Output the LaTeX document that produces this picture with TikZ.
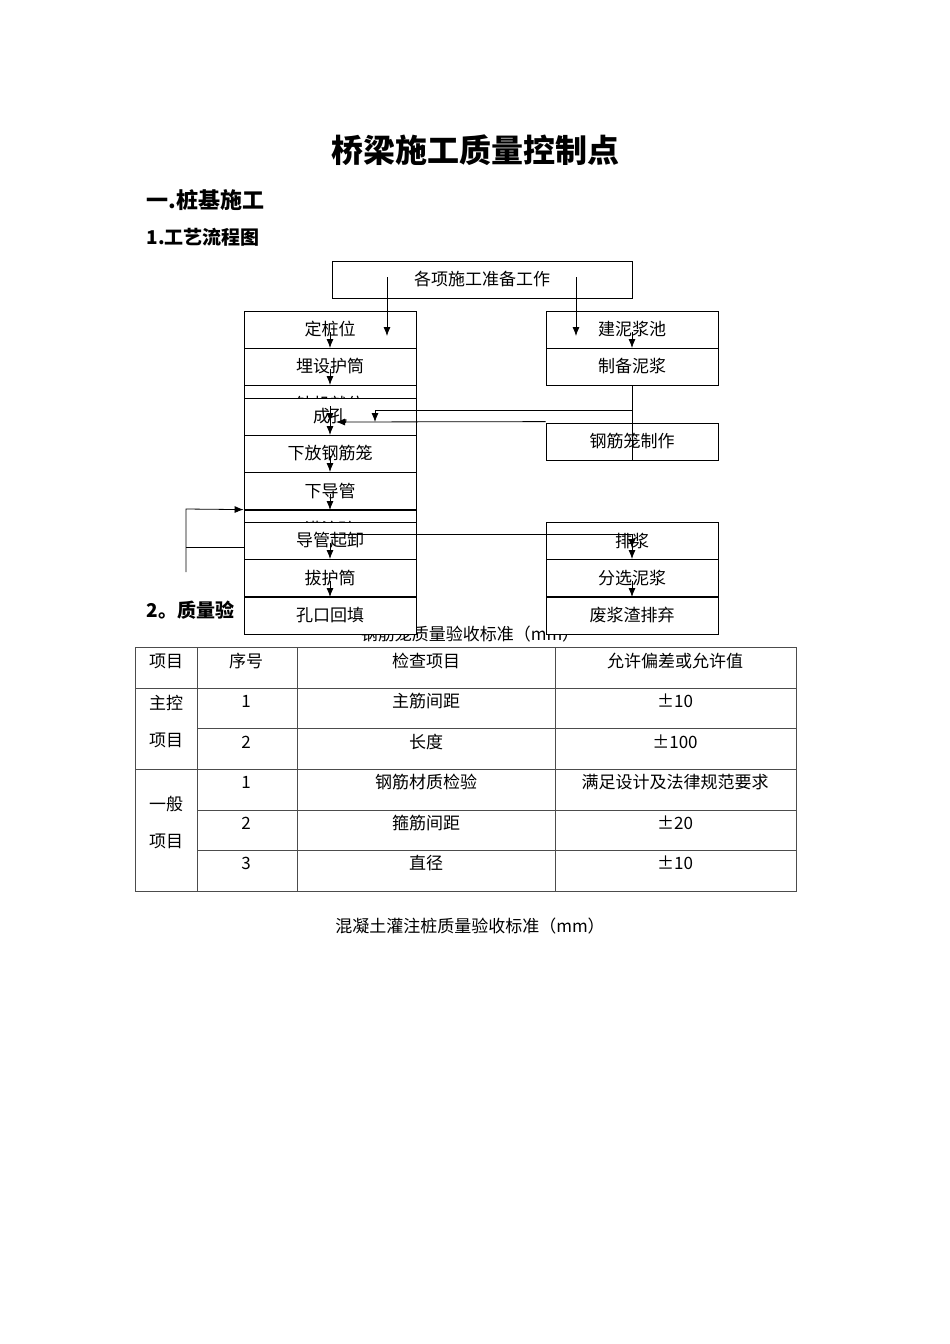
\documentclass[tikz,border=0pt]{standalone}
\usepackage{fontspec}
\setmainfont{Noto Sans CJK SC}
\usetikzlibrary{arrows.meta}
\begin{document}
\begin{tikzpicture}[x=1pt,y=-1pt,
 bx/.style={draw,thick,fill=white,minimum width=172pt,minimum height=37pt,inner sep=0pt,font=\fontsize{17}{17}\selectfont},
 tx/.style={font=\fontsize{17}{17}\selectfont,inner sep=0pt},
 ar/.style={-{Latex[length=9pt,width=7pt]},thick},
 ln/.style={thick}]
\useasboundingbox (0,0) rectangle (950,1344);
\node[font=\fontsize{32}{32}\selectfont\bfseries] (title) at (475,150) {桥梁施工质量控制点};
\node[anchor=west,font=\fontsize{22}{22}\selectfont\bfseries] (h1) at (143,200) {一.桩基施工};
\node[anchor=west,font=\fontsize{19}{19}\selectfont\bfseries] (h2) at (143,237) {1.工艺流程图};
\node[anchor=west,font=\fontsize{19}{19}\selectfont\bfseries] (h3) at (143,610) {2。质量验};
\node[tx] (cap1) at (470,634) {钢筋笼质量验收标准（mm）};
% top
\node[bx,minimum width=300pt] (top) at (482,279.5) {各项施工准备工作};
% left column
\node[bx] (a1) at (330,329.5) {定桩位};
\node[bx] (a2) at (330,366.5) {埋设护筒};
\node[bx] (a3) at (330,403.5) {钻机就位};
\node[bx] (a4) at (330,416.5) {成孔};
\node[bx] (a5) at (330,453.5) {下放钢筋笼};
\node[bx] (a6) at (330,491) {下导管};
\node[bx] (a7) at (330,528.5) {灌注砼};
\node[bx] (a8) at (330,540.5) {导管起卸};
\node[bx] (a9) at (330,578) {拔护筒};
\node[bx] (a10) at (330,615.5) {孔口回填};
% right column
\node[bx] (b1) at (632,329.5) {建泥浆池};
\node[bx] (b2) at (632,366.5) {制备泥浆};
\node[bx] (b3) at (632,441.5) {钢筋笼制作};
\node[bx] (b4) at (632,540.5) {排浆};
\node[bx] (b5) at (632,578) {分选泥浆};
\node[bx] (b6) at (632,615.5) {废浆渣排弃};
% top arrows
\draw[ar] (387,277) -- (387,336);
\draw[ar] (576,277) -- (576,336);
% column arrows
\foreach \y in {348,385,422,435,472,510,559,597}{\draw[ar] (330,\y-16) -- (330,\y);}
\foreach \y in {348,559,597}{\draw[ar] (632,\y-16) -- (632,\y);}
% mud lines
\draw[ln] (b2.south) -- (632,460);
\draw[ar] (632,410) -- (375,410) -- (375,422);
\draw[ar] (b3.north west) ++(0,-1) -- (336,422);
% bottom connections
\draw[ar] (330,534) -- (632,534) -- (632,548);
\draw[ar] (186,572) -- (186,509) -- (a7.north west);
\draw[ln] (186,547) -- (244,547);
% table
\begin{scope}[draw=black!70]
\draw (135,647) rectangle (796,891);
\foreach \x in {197,297,555}{\draw (\x,647) -- (\x,891);}
\draw (135,688) -- (796,688);
\draw (135,769) -- (796,769);
\foreach \y in {728,810,850}{\draw (197,\y) -- (796,\y);}
\end{scope}
\node[tx] (t1) at (166,661) {项目};
\node[tx] (t2) at (246,661) {序号};
\node[tx] (t3) at (426,661) {检查项目};
\node[tx] (t4) at (675,661) {允许偏差或允许值};
\node[tx] (m1) at (166,703) {主控};
\node[tx] (m2) at (166,740) {项目};
\node[tx] (m3) at (166,804) {一般};
\node[tx] (m4) at (166,841) {项目};
\foreach \y/\n/\c/\v [count=\i] in {701/1/主筋间距/±10,742/2/长度/±100,782/1/钢筋材质检验/满足设计及法律规范要求,823/2/箍筋间距/±20,863/3/直径/±10}{
 \node[tx] (n\i) at (246,\y) {\n};
 \node[tx] (c\i) at (426,\y) {\c};
 \node[tx] (v\i) at (675,\y) {\v};
}
\node[tx] (cap2) at (470,926) {混凝土灌注桩质量验收标准（mm）};
\end{tikzpicture}
\end{document}
